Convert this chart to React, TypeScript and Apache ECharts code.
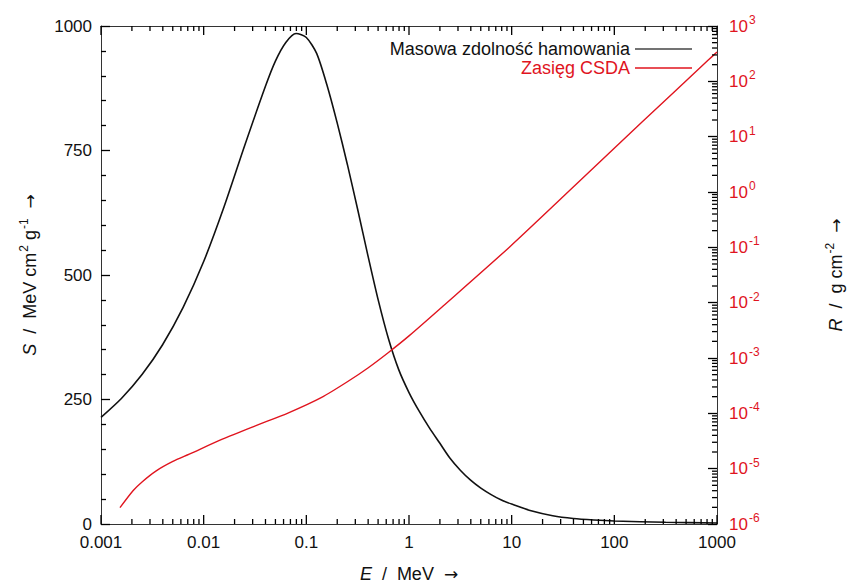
import React, { useEffect, useRef } from "react";
import * as echarts from "echarts";

// Mass stopping power S (MeV cm^2 g^-1) vs energy E (MeV)
const sEnergy = [0.001, 0.00158, 0.00251, 0.00398, 0.00631, 0.01, 0.0158, 0.0251, 0.0398, 0.0501, 0.0631, 0.0794, 0.1, 0.126, 0.158, 0.2, 0.251, 0.316, 0.398, 0.501, 0.631, 0.794, 1, 1.26, 1.58, 2.0, 2.51, 3.16, 3.98, 5.01, 6.31, 7.94, 10, 15.8, 25.1, 39.8, 63.1, 100, 316, 1000];
const sValues = [214, 252, 300, 360, 435, 527, 637, 760, 878, 930, 967, 985, 977, 945, 883, 805, 722, 632, 539, 450, 372, 310, 264, 226, 193, 162, 132, 108, 88, 72, 59, 48, 40, 26, 16.5, 11, 8, 6, 3.5, 2];

// CSDA range R (g cm^-2) vs energy E (MeV)
const rEnergy = [0.00153, 0.00205, 0.00251, 0.00345, 0.00501, 0.00724, 0.0152, 0.0319, 0.067, 0.141, 0.251, 0.398, 0.631, 1, 2.15, 9.5, 42, 185, 822, 1000];
const rValues = [1.97e-6, 3.98e-6, 5.75e-6, 9.12e-6, 1.35e-5, 1.83e-5, 3.41e-5, 5.94e-5, 1.02e-4, 1.94e-4, 3.72e-4, 6.61e-4, 1.26e-3, 2.51e-3, 8.7e-3, 0.1007, 1.35, 18.2, 242, 339];

const xTickLabels = ["0.001", "0.01", "0.1", "1", "10", "100", "1000"];
const xMajor = [0.001, 0.01, 0.1, 1, 10, 100, 1000];
const rExponents = [-6, -5, -4, -3, -2, -1, 0, 1, 2, 3];
const seriesNames = ["Masowa zdolność hamowania", "Zasięg CSDA"];

const FONT = "Liberation Sans, Arial, Helvetica, sans-serif";
const ARROW_FONT = "DejaVu Sans, sans-serif";
const RED = "#e0141e";
const AXIS = "#333";
const TICK = "#000";

function minorLogTicks(minExp: number, maxExp: number): number[] {
  const out: number[] = [];
  for (let e = minExp; e < maxExp; e++) {
    for (let m = 2; m <= 9; m++) out.push(m * Math.pow(10, e));
  }
  return out;
}

const nameRich = {
  i: { fontStyle: "italic", fontSize: 18, fontFamily: FONT, color: "#111", lineHeight: 18 },
  sup: { fontSize: 12, lineHeight: 12, fontFamily: FONT, color: "#111", padding: [0, 0, 12, 1] },
  ar: { fontSize: 17, fontFamily: ARROW_FONT, color: "#111", lineHeight: 18 },
};

// x-axis tick marks as thin rect symbols sitting on the bottom (S = 0) and top (S = 1000) edges
function xTickScatter(name: string, values: number[], atTop: boolean, len: number) {
  return {
    name,
    type: "scatter",
    xAxisIndex: 0,
    yAxisIndex: 0,
    silent: true,
    z: 6,
    clip: false,
    symbol: "rect",
    symbolSize: [1.3, len],
    symbolOffset: [0, atTop ? len / 2 : -len / 2],
    itemStyle: { color: TICK, opacity: 1 },
    data: values.map((v) => [v, atTop ? 1000 : 0]),
  };
}

export default function App() {
  const ref = useRef<HTMLDivElement>(null);
  useEffect(() => {
    if (!ref.current) return;
    const chart = echarts.init(ref.current, undefined, { renderer: "svg" });
    const xMinor = minorLogTicks(-3, 3);
    const rMinor = minorLogTicks(-6, 3);

    const option: any = {
      animation: false,
      backgroundColor: "#fff",
      textStyle: { fontFamily: FONT },
      grid: { left: 101, right: 135, top: 26, bottom: 64, containLabel: false },
      legend: {
        orient: "vertical",
        right: 159,
        top: 35,
        align: "right",
        itemWidth: 57,
        itemHeight: 1.5,
        itemGap: 1,
        icon: "rect",
        data: [
          { name: seriesNames[0], textStyle: { color: "#111" }, itemStyle: { color: "#444" } },
          { name: seriesNames[1], textStyle: { color: RED }, itemStyle: { color: RED } },
        ],
        textStyle: { fontSize: 18, fontFamily: FONT, lineHeight: 18 },
        selectedMode: false,
      },
      xAxis: [
        {
          type: "log",
          logBase: 10,
          min: 0.001,
          max: 1000,
          position: "bottom",
          axisLine: { show: true, lineStyle: { color: AXIS, width: 1 } },
          axisTick: { show: false },
          splitLine: { show: false },
          axisLabel: {
            fontSize: 17,
            color: "#111",
            margin: 10,
            fontFamily: FONT,
            formatter: (v: number) => xTickLabels[Math.round(Math.log10(v)) + 3] ?? "",
          },
          name: "{i|E}  /  MeV  {ar|→}",
          nameLocation: "middle",
          nameGap: 41,
          nameTextStyle: { fontSize: 18, color: "#111", fontFamily: FONT, rich: nameRich },
        },
        {
          type: "log",
          logBase: 10,
          min: 0.001,
          max: 1000,
          position: "top",
          axisLine: { show: true, lineStyle: { color: AXIS, width: 1 } },
          axisTick: { show: false },
          axisLabel: { show: false },
          splitLine: { show: false },
        },
      ],
      yAxis: [
        {
          type: "value",
          min: 0,
          max: 1000,
          interval: 250,
          position: "left",
          axisLine: { show: true, lineStyle: { color: AXIS, width: 1 } },
          axisTick: { show: true, inside: true, length: 9, lineStyle: { color: TICK, width: 1.3 } },
          minorTick: { show: true, splitNumber: 5, length: 5, lineStyle: { color: TICK, width: 1.3 } },
          splitLine: { show: false },
          axisLabel: { fontSize: 17, color: "#111", margin: 9, fontFamily: FONT, formatter: (v: number) => String(v) },
          name: "{i|S}  /  MeV cm{sup|2} g{sup|-1}  {ar|→}",
          nameLocation: "middle",
          nameRotate: 90,
          nameGap: 62,
          nameTextStyle: { fontSize: 18, color: "#111", fontFamily: FONT, rich: nameRich },
        },
        {
          type: "log",
          logBase: 10,
          min: 1e-6,
          max: 1e3,
          position: "right",
          axisLine: { show: true, lineStyle: { color: AXIS, width: 1 } },
          axisTick: { show: true, inside: true, length: 9, lineStyle: { color: TICK, width: 1.3 } },
          splitLine: { show: false },
          axisLabel: {
            color: RED,
            margin: 12,
            fontFamily: FONT,
            formatter: (v: number) => {
              const e = Math.round(Math.log10(v));
              return rExponents.includes(e) ? `{b|10}{sup|${e}}` : "";
            },
            rich: {
              b: { fontSize: 17, lineHeight: 17, fontFamily: FONT, color: RED },
              sup: { fontSize: 12, lineHeight: 12, fontFamily: FONT, color: RED, padding: [0, 0, 12, 1] },
            },
          },
          name: "{i|R}  /  g cm{sup|-2}  {ar|→}",
          nameLocation: "middle",
          nameRotate: 90,
          nameGap: 110,
          nameTextStyle: { fontSize: 18, color: "#111", fontFamily: FONT, rich: nameRich },
        },
      ],
      series: [
        {
          name: seriesNames[0],
          type: "line",
          xAxisIndex: 0,
          yAxisIndex: 0,
          data: sEnergy.map((e, i) => [e, sValues[i]]),
          smooth: 0.25,
          symbol: "none",
          lineStyle: { color: "#111", width: 1.6 },
          itemStyle: { color: "#444" },
          z: 3,
        },
        {
          name: seriesNames[1],
          type: "line",
          xAxisIndex: 0,
          yAxisIndex: 1,
          data: rEnergy.map((e, i) => [e, rValues[i]]),
          smooth: 0.25,
          symbol: "none",
          lineStyle: { color: RED, width: 1.4 },
          itemStyle: { color: RED },
          z: 3,
        },
        xTickScatter("xMajorBottom", xMajor, false, 9),
        xTickScatter("xMajorTop", xMajor, true, 9),
        xTickScatter("xMinorBottom", xMinor, false, 5),
        xTickScatter("xMinorTop", xMinor, true, 5),
        {
          name: "rMinor",
          type: "custom",
          xAxisIndex: 0,
          yAxisIndex: 1,
          silent: true,
          z: 6,
          clip: false,
          data: rMinor.map((v) => [1, v]),
          renderItem: (params: any, api: any) => {
            const p = api.coord([1, api.value(1)]);
            const cs = params.coordSys;
            const right = cs.x + cs.width;
            return {
              type: "line",
              shape: { x1: right, y1: p[1], x2: right - 5, y2: p[1] },
              style: { stroke: TICK, lineWidth: 1.3 },
            };
          },
        },
      ],
    };
    chart.setOption(option);
    return () => chart.dispose();
  }, []);
  return <div ref={ref} style={{ width: 856, height: 588, position: "absolute", left: 0, top: 0 }} />;
}
